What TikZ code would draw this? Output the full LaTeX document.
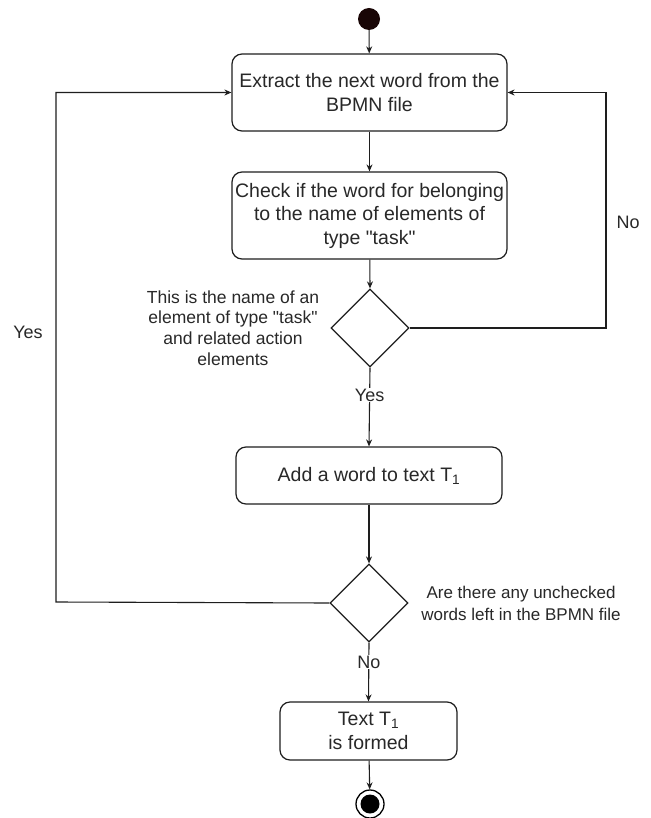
\documentclass[tikz,border=0pt]{standalone}
\usepackage{fontspec}
\setmainfont{Liberation Sans}
\usetikzlibrary{arrows.meta,shapes.geometric}
\definecolor{txt}{RGB}{40,40,40}
\definecolor{ln}{RGB}{30,30,30}
\definecolor{startc}{RGB}{25,6,6}
\newcommand{\qq}{\textquotedbl}
\begin{document}
\begin{tikzpicture}[x=1pt,y=-1pt,
  box/.style={draw=ln, line width=1.2pt, rounded corners=10pt, align=center, inner sep=0pt, text=txt,
    font=\fontsize{19.5}{23.5}\selectfont},
  dia/.style={draw=ln, line width=1.2pt, diamond, minimum width=78pt, minimum height=78pt, inner sep=0pt},
  arr/.style={draw=ln, line width=1.1pt, -{Stealth[length=7pt,width=6pt]}},
  lab/.style={text=txt, align=center, inner sep=1pt, font=\fontsize{18}{21}\selectfont},
  note/.style={text=txt, align=center, inner sep=0pt}]
\useasboundingbox (0,0) rectangle (650,818);
\fill[white] (0,0) rectangle (650,818);

\node[circle, fill=startc, minimum size=22pt, inner sep=0pt] (start) at (369,19) {};
\node[box, minimum width=275pt, minimum height=77pt] (b1) at (369.5,92.5) {Extract the next word from the\\BPMN file};
\node[box, minimum width=275pt, minimum height=87pt] (b2) at (369.5,215.5) {Check if the word for belonging\\to the name of elements of\\type \qq task\qq};
\node[dia] (d1) at (370,328) {};
\node[box, minimum width=266pt, minimum height=57pt] (b3) at (369,475.5) {Add a word to text T\textsubscript{1}};
\node[dia] (d2) at (369,603) {};
\node[box, minimum width=177pt, minimum height=58pt] (b4) at (368.5,731) {Text T\textsubscript{1}\\is formed};
\node[circle, draw=black, line width=1.3pt, minimum size=28pt, inner sep=0pt] (end) at (370,804) {};
\node[circle, fill=black, minimum size=19pt, inner sep=0pt] (endin) at (end.center) {};

\node[note, font=\fontsize{17.5}{20.7}\selectfont] (l1) at (233,328) {This is the name of an\\element of type \qq task\qq\\and related action\\elements};
\node[note, font=\fontsize{17}{22}\selectfont] (l2) at (521,603) {Are there any unchecked\\words left in the BPMN file};
\node[lab] (yesl) at (28,332) {Yes};
\node[lab] (nor) at (628,222) {No};

\coordinate (cl1) at (56,602);
\coordinate (cl2) at (56,92.5);
\coordinate (cr1) at (606,328);
\coordinate (cr2) at (606,92.5);

\draw[arr] (start) -- (b1);
\draw[arr] (b1) -- (b2);
\draw[arr] (b2) -- (d1.north);
\draw[arr] (d1.south) -- node[lab, fill=white, pos=0.35] {Yes} (b3.north);
\draw[arr] (b3.south) -- (d2.north);
\draw[arr] (d2.south) -- node[lab, fill=white, pos=0.33] {No} (b4.north);
\draw[arr] (b4) -- (end);
\draw[arr] (d2.west) -- (cl1) -- (cl2) -- (b1.west);
\draw[arr] (d1.east) -- (cr1) -- (cr2) -- (b1.east);
\end{tikzpicture}
\end{document}
